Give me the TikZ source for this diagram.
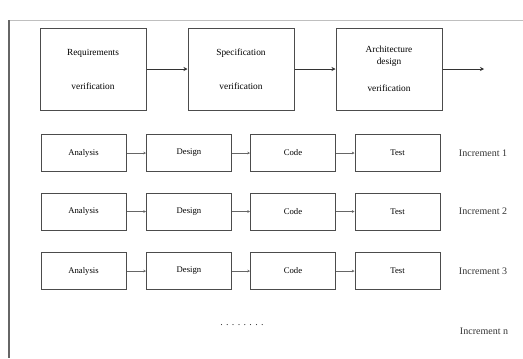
\documentclass[tikz,border=0pt]{standalone}
\usepackage{fontspec}
\setmainfont{Liberation Serif}
\usetikzlibrary{arrows.meta,positioning,calc}
\tikzset{
    phase/.style = {rectangle, draw=black!70, line width=0.75pt, align=center,
                    minimum width=106*0.75pt, minimum height=82*0.75pt, font=\fontsize{7}{8.5}\selectfont},
    task/.style  = {rectangle, draw=black!70, line width=0.75pt, align=center,
                    minimum width=85*0.75pt, minimum height=37*0.75pt, font=\fontsize{6.5}{8}\selectfont},
    inclabel/.style = {font=\fontsize{7.5}{9}\selectfont, text=black!80},
    flow/.style  = {-{Stealth[length=3pt,width=3pt]}, line width=0.6pt, draw=black!80},
    link/.style  = {-{Stealth[length=2pt,width=2pt]}, line width=0.4pt, draw=black!60}
}
\begin{document}
\begin{tikzpicture}[x=0.75pt, y=-0.75pt]
        \useasboundingbox (0,0) rectangle (523,358);

        % Frame
        \draw[black!25, line width=0.4pt] (9,20) -- (523,20);
        \draw[black!60, line width=1.2pt] (9,20) -- (9,358);

        % Top phases
        \node[phase] (req) at (93, 69) {Requirements\\[17pt]verification};
        \node[phase] (spec) at (241, 69) {Specification\\[17pt]verification};
        \node[phase] (arch) at (389, 69) {Architecture\\design\\[12pt]verification};
        \coordinate (out) at (484, 69);

        \draw[flow] (req) -- (spec);
        \draw[flow] (spec) -- (arch);
        \draw[flow] (arch) -- (out);

        % Increments
        \foreach \row/\y in {1/153, 2/211.5, 3/271} {
            \node[task] (an\row) at (83.5, \y) {Analysis};
            \node[task] (de\row) at (189, \y) {Design};
            \node[task] (co\row) at (293, \y) {Code};
            \node[task] (te\row) at (397.5, \y) {Test};
            \node[inclabel] (inc\row) at (483, \y) {Increment \row};
            \draw[link] (an\row) -- (de\row);
            \draw[link] (de\row) -- (co\row);
            \draw[link] (co\row) -- (te\row);
        }

        % Remaining increments
        \node[inclabel] (dots) at (242, 325) {. . . . . . . .};
        \node[inclabel] (incn) at (484, 331) {Increment n};

    \end{tikzpicture}
\end{document}
